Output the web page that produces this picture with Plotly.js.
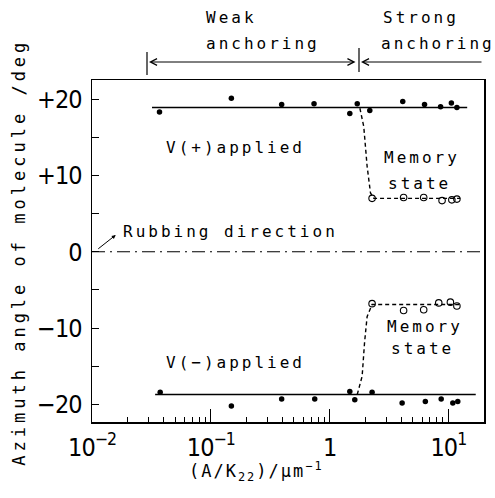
<!DOCTYPE html>
<html>
<head>
<meta charset="utf-8">
<script src="https://cdn.plot.ly/plotly-3.0.1.min.js"></script>
<style>
  html, body { margin: 0; padding: 0; background: #fff; }
  #chart { width: 495px; height: 498px; }
  .annotation-text { letter-spacing: 3px; }
  g.annotation[data-index="0"] .annotation-text { letter-spacing: 4px; }
  g.annotation[data-index="1"] .annotation-text { letter-spacing: 2px; }
  .xtick text, .ytick text { letter-spacing: -1px; }
</style>
</head>
<body>
<div id="chart"></div>
<script>
// ---- Data ----
// V(+) applied (filled dots)
const xPlus = [0.037, 0.149, 0.395, 0.74, 1.48, 1.71, 2.18, 4.13, 6.3, 8.6, 10.6, 11.8];
const yPlus = [18.3, 20.1, 19.3, 19.4, 18.1, 19.4, 18.5, 19.7, 19.3, 19.0, 19.5, 18.9];
// V(-) applied (filled dots)
const xMinus = [0.0375, 0.149, 0.395, 0.75, 1.48, 1.63, 2.28, 4.08, 6.4, 8.7, 10.9, 12.0];
const yMinus = [-18.4, -20.2, -19.3, -19.3, -18.3, -19.4, -18.4, -19.8, -19.6, -19.3, -19.8, -19.6];
// Memory state after V(+) (open circles)
const xMemPlus = [2.28, 4.2, 6.2, 8.85, 10.7, 11.8];
const yMemPlus = [7.0, 7.1, 7.1, 6.7, 6.8, 6.9];
// Memory state after V(-) (open circles)
const xMemMinus = [2.28, 4.2, 6.2, 8.3, 10.4, 11.8];
const yMemMinus = [-6.8, -7.7, -7.6, -6.7, -6.6, -7.1];
// Solid guide lines
const xFitPlus = [0.032, 14.4];
const yFitPlus = [18.9, 18.9];
const xFitMinus = [0.034, 17.0];
const yFitMinus = [-18.7, -18.7];
// Dashed transition curves
const xDashPlus = [1.80, 1.94, 2.07, 2.21, 2.36, 12.6];
const yDashPlus = [18.8, 16.4, 11.2, 7.7, 7.0, 7.0];
const xDashMinus = [1.71, 1.88, 1.97, 2.07, 2.28, 12.6];
const yDashMinus = [-18.7, -16.3, -11.9, -8.5, -6.9, -6.9];
// Tick labels
const xTickVals = [0.01, 0.1, 1, 10];
const xTickText = ['10<sup>\u22122</sup>', '10<sup>\u22121</sup>', '1', '10<sup>1</sup>'];
const yTickVals = [-20, -10, 0, 10, 20];
const yTickText = ['\u221220', '\u221210', '0', '+10', '+20'];

const xMinorVals = [];
[0.01, 0.1, 1, 10].forEach(d => { for (let k = 2; k <= 9; k++) xMinorVals.push(d * k); });

const XMIN = -2.0, XMAX = 1.30;
const px2paper = p => (p - 92) / 392;

const mono = 'DejaVu Sans Mono, Liberation Mono, monospace';
const narrow = 'Liberation Sans Narrow, DejaVu Sans Condensed, Arial Narrow, Liberation Sans, sans-serif';

const dot = {symbol: 'circle', size: 5.5, color: '#000'};
const ring = {symbol: 'circle-open', size: 6.5, color: '#000', line: {width: 1.1, color: '#000'}};

const traces = [
  {x: xFitPlus, y: yFitPlus, mode: 'lines', line: {color: '#000', width: 1.4}},
  {x: xFitMinus, y: yFitMinus, mode: 'lines', line: {color: '#000', width: 1.4}},
  {x: xDashPlus, y: yDashPlus, mode: 'lines', line: {color: '#000', width: 1.4, dash: '4px,3px'}},
  {x: xDashMinus, y: yDashMinus, mode: 'lines', line: {color: '#000', width: 1.4, dash: '4px,3px'}},
  {x: xPlus, y: yPlus, mode: 'markers', marker: dot},
  {x: xMinus, y: yMinus, mode: 'markers', marker: dot},
  {x: xMemPlus, y: yMemPlus, mode: 'markers', marker: ring},
  {x: xMemMinus, y: yMemMinus, mode: 'markers', marker: ring}
];

const txt = (s, extra) => Object.assign({text: s, showarrow: false, font: {family: mono, size: 16, color: '#000'}}, extra);

const annotations = [
  // 0: y title
  txt('Azimuth angle of molecule /deg', {xref: 'paper', yref: 'paper', x: px2paper(19), y: 0.495, xanchor: 'center', yanchor: 'middle', textangle: -90, font: {family: mono, size: 17, color: '#000'}}),
  // 1: x title
  txt('(A/K<sub>22</sub>)/\u03bcm<sup>\u22121</sup>', {xref: 'paper', yref: 'paper', x: px2paper(256), y: (422 - 471) / 342, xanchor: 'center', yanchor: 'middle', font: {family: mono, size: 17, color: '#000'}}),
  txt('V(+)applied', {xref: 'x', yref: 'y', x: -1.395, y: 13.7, xanchor: 'left', yanchor: 'middle'}),
  txt('Memory', {xref: 'x', yref: 'y', x: 0.78, y: 12.4, xanchor: 'center', yanchor: 'middle'}),
  txt('state', {xref: 'x', yref: 'y', x: 0.76, y: 9.0, xanchor: 'center', yanchor: 'middle'}),
  txt('V(\u2212)applied', {xref: 'x', yref: 'y', x: -1.395, y: -14.5, xanchor: 'left', yanchor: 'middle'}),
  txt('Memory', {xref: 'x', yref: 'y', x: 0.80, y: -9.8, xanchor: 'center', yanchor: 'middle'}),
  txt('state', {xref: 'x', yref: 'y', x: 0.78, y: -12.7, xanchor: 'center', yanchor: 'middle'}),
  txt('Rubbing direction', {xref: 'x', yref: 'y', x: -1.755, y: 2.6, xanchor: 'left', yanchor: 'middle'}),
  txt('Weak', {xref: 'paper', yref: 'paper', x: px2paper(204), y: (422 - 18) / 342, xanchor: 'left', yanchor: 'middle'}),
  txt('anchoring', {xref: 'paper', yref: 'paper', x: px2paper(204), y: (422 - 43) / 342, xanchor: 'left', yanchor: 'middle'}),
  txt('Strong', {xref: 'paper', yref: 'paper', x: px2paper(381), y: (422 - 18) / 342, xanchor: 'left', yanchor: 'middle'}),
  txt('anchoring', {xref: 'paper', yref: 'paper', x: px2paper(379), y: (422 - 43) / 342, xanchor: 'left', yanchor: 'middle'}),
  // arrows
  {text: '', xref: 'paper', yref: 'paper', x: px2paper(149), y: (422 - 62) / 342, ax: 208, ay: 0,
   showarrow: true, arrowhead: 5, startarrowhead: 5, arrowside: 'end+start', arrowsize: 1.3, arrowwidth: 1, arrowcolor: '#000', standoff: 0, startstandoff: 0},
  {text: '', xref: 'paper', yref: 'paper', x: px2paper(361), y: (422 - 62) / 342, ax: 122, ay: 0,
   showarrow: true, arrowhead: 5, arrowsize: 1.3, arrowwidth: 1, arrowcolor: '#000', standoff: 0},
  {text: '', xref: 'x', yref: 'y', x: -1.80, y: 2.2, ax: -19, ay: 15,
   showarrow: true, arrowhead: 2, arrowsize: 0.8, arrowwidth: 1, arrowcolor: '#000', standoff: 0}
];

const shapes = [
  {type: 'line', xref: 'paper', yref: 'y', x0: 0, x1: 1, y0: 0, y1: 0, line: {color: '#000', width: 1.1, dash: '13px,5px,2px,5px'}},
  {type: 'line', xref: 'paper', yref: 'paper', x0: px2paper(147), x1: px2paper(147), y0: (422 - 52) / 342, y1: (422 - 75) / 342, line: {color: '#000', width: 1.2}},
  {type: 'line', xref: 'paper', yref: 'paper', x0: px2paper(359), x1: px2paper(359), y0: (422 - 48) / 342, y1: (422 - 72) / 342, line: {color: '#000', width: 1.2}}
];

const layout = {
  width: 495, height: 498,
  margin: {l: 92, r: 11, t: 80, b: 76, pad: 0},
  paper_bgcolor: '#fff', plot_bgcolor: '#fff',
  showlegend: false,
  xaxis: {
    type: 'log', range: [XMIN, XMAX], showgrid: false, zeroline: false,
    showline: true, linecolor: '#000', linewidth: 1.5, mirror: true,
    ticks: 'inside', ticklen: 13, tickwidth: 1.1, tickcolor: '#000',
    tickvals: xTickVals, ticktext: xTickText, ticklabelstandoff: 2,
    tickfont: {family: narrow, size: 25, color: '#000'},
    minor: {tickvals: xMinorVals, ticks: 'inside', ticklen: 5, tickwidth: 1, tickcolor: '#000', showgrid: false}
  },
  yaxis: {
    range: [-22.3, 22.5], showgrid: false, zeroline: false,
    showline: true, linecolor: '#000', linewidth: 1.5, mirror: true,
    ticks: 'inside', ticklen: 7, tickwidth: 1.1, tickcolor: '#000',
    tickvals: yTickVals, ticktext: yTickText, ticklabelstandoff: 4,
    tickfont: {family: narrow, size: 25, color: '#000'},
    minor: {tickvals: [-15, -5, 5, 15], ticks: 'inside', ticklen: 7, tickwidth: 1, tickcolor: '#000', showgrid: false}
  },
  annotations: annotations,
  shapes: shapes
};

Plotly.newPlot('chart', traces, layout, {displayModeBar: false, staticPlot: true});
</script>
</body>
</html>
